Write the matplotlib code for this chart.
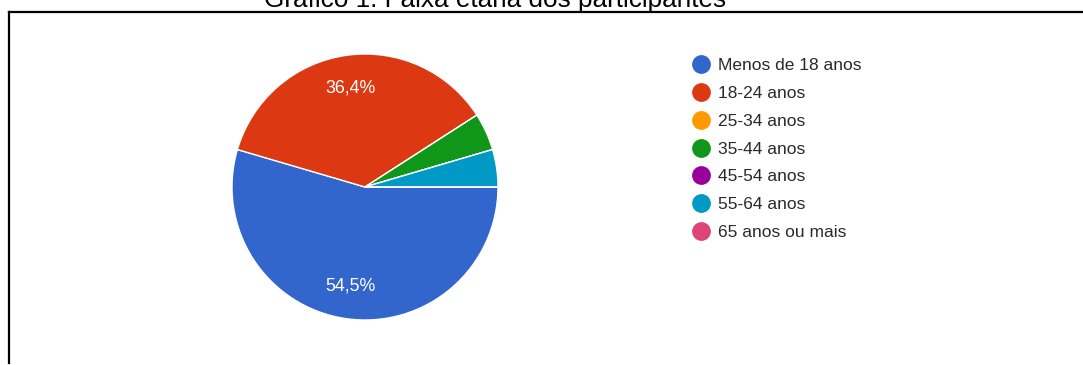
import matplotlib.pyplot as plt
from matplotlib.lines import Line2D

plt.rcParams['font.family'] = ['Liberation Sans', 'DejaVu Sans']

# Faixa etária dos participantes (respostas)
categorias = ["Menos de 18 anos", "18-24 anos", "25-34 anos", "35-44 anos",
              "45-54 anos", "55-64 anos", "65 anos ou mais"]
respostas = [12, 8, 0, 1, 0, 1, 0]
cores = ["#3366cc", "#dc3912", "#ff9900", "#109618", "#990099", "#0099c6", "#dd4477"]

W, H = 1083, 365
fig = plt.figure(figsize=(W / 100, H / 100), dpi=100)

# moldura (só topo e esquerda aparecem no recorte)
fig.add_artist(Line2D([9 / W, 9 / W], [1 - 12 / H, 1 - 363 / H], color="black", lw=1.6))
fig.add_artist(Line2D([9 / W, 1.0], [1 - 12 / H, 1 - 12 / H], color="black", lw=1.6))

# título cortado no topo, como no original
fig.text(495 / W, 1 - 7 / H, "Gráfico 1: Faixa etária dos participantes",
         ha="center", va="baseline", fontsize=18.8, color="black")

# pizza
cx, cy, r = 365, 187, 133
ax = fig.add_axes([(cx - r) / W, (H - cy - r) / H, 2 * r / W, 2 * r / H])


def rotulo(pct):
    if pct < 10:
        return ""
    return f"{pct:.1f}%".replace(".", ",")


fatias, textos, pcts = ax.pie(
    respostas, colors=cores, startangle=0, counterclock=False,
    autopct=rotulo, pctdistance=0.755, radius=1,
    wedgeprops=dict(edgecolor="white", linewidth=1),
    textprops=dict(color="white", fontsize=12.8),
)
ax.set_xlim(-1, 1)
ax.set_ylim(-1, 1)
ax.set_aspect("equal")
ax.axis("off")

# legenda
handles = [Line2D([], [], marker="o", linestyle="", markersize=12.5,
                  markerfacecolor=c, markeredgecolor=c) for c in cores]
fig.legend(handles, categorias, loc="upper left",
           bbox_to_anchor=(693 / W, 1 - 58 / H), frameon=False,
           fontsize=12.5, labelcolor="#2a2a2a", handlelength=0.95,
           handletextpad=0.5, labelspacing=0.73, borderpad=0, borderaxespad=0)

fig.savefig("out.png", dpi=100, facecolor="white")
